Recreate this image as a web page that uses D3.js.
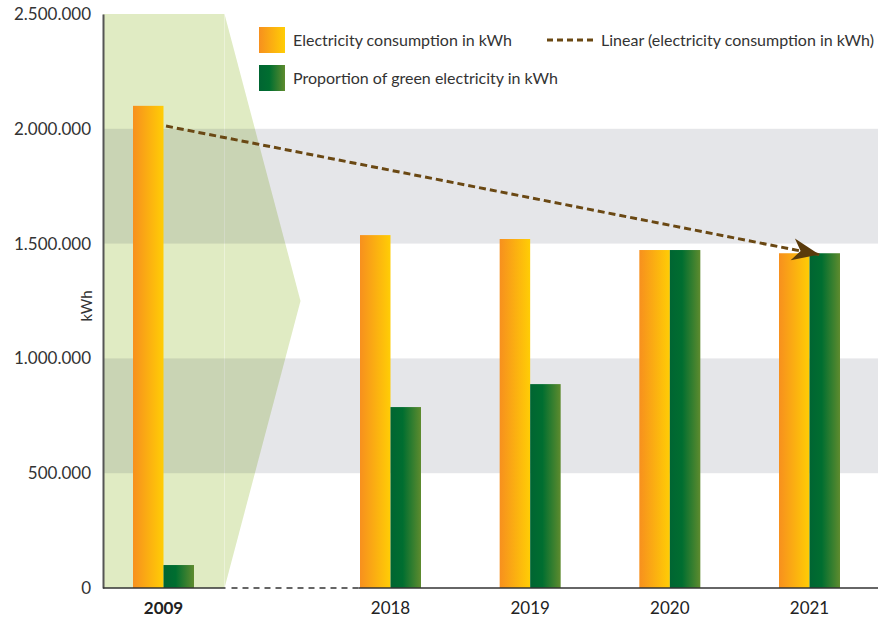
<!DOCTYPE html>
<html lang="en">
<head>
<meta charset="UTF-8">
<title>Electricity consumption</title>
<script src="https://cdn.jsdelivr.net/npm/d3@7"></script>
<style>
    body { margin: 0; background: #fff; }
    svg { display: block; font-family: Lato, sans-serif; }
</style>
</head>
<body>
<svg></svg>
<script>
    // values
    const years = [2009, 2018, 2019, 2020, 2021];
    const consumption = [2100000, 1537000, 1520000, 1472000, 1458000];
    const greenPower = [100000, 788000, 888000, 1472000, 1458000];
    const yTicks = [0, 500000, 1000000, 1500000, 2000000, 2500000];
    const trendYears = [2009.1, 2021.07];
    const trendValues = [2012000, 1452000];
    const legendLabels = ['Electricity consumption in kWh', 'Proportion of green electricity in kWh', 'Linear (electricity consumption in kWh)'];

    const width = 878, height = 618;
    const margin = { top: 14, right: 0, bottom: 30, left: 103 };

    const svg = d3.select('svg')
        .attr('width', width)
        .attr('height', height);

    const y = d3.scaleLinear()
        .domain([0, 2500000])
        .range([height - margin.bottom, margin.top]);

    // broken x axis: 2009 stands alone, then one step per year from 2018 on
    const x = d3.scaleLinear()
        .domain([2009, 2018, 2021])
        .range([163.5, 390.5, 809.5]);

    const xSub = d3.scaleBand()
        .domain(['consumption', 'green'])
        .range([-30.5, 30.5]);

    const fmt = d3.formatLocale({ decimal: ',', thousands: '.', grouping: [3], currency: ['', ''] }).format(',');

    // gradients for the bars
    const defs = svg.append('defs');
    const gradOrange = defs.append('linearGradient').attr('id', 'gOrange');
    gradOrange.append('stop').attr('offset', 0).attr('stop-color', '#f7901e');
    gradOrange.append('stop').attr('offset', 1).attr('stop-color', '#ffcd05');
    const gradGreen = defs.append('linearGradient').attr('id', 'gGreen');
    gradGreen.append('stop').attr('offset', 0).attr('stop-color', '#006532');
    gradGreen.append('stop').attr('offset', 0.4).attr('stop-color', '#006e30');
    gradGreen.append('stop').attr('offset', 1).attr('stop-color', '#5e8b2e');

    defs.append('marker')
        .attr('id', 'arrow')
        .attr('markerUnits', 'userSpaceOnUse')
        .attr('viewBox', '-28 -12 29 24')
        .attr('markerWidth', 29)
        .attr('markerHeight', 24)
        .attr('refX', 0)
        .attr('refY', 0)
        .attr('orient', 'auto')
        .append('path')
        .attr('d', 'M0,0L-27,-11L-19,0L-27,11Z')
        .attr('fill', '#5a3b0b');

    // light green arrow shape behind 2009
    const x09 = x(2009);
    svg.append('polygon')
        .attr('points', [
            [margin.left, y(2500000)],
            [x09 + 61, y(2500000)],
            [x09 + 137, y(1250000)],
            [x09 + 61, y(0)],
            [margin.left, y(0)]
        ].join(' '))
        .attr('fill', '#e0ebc3');

    svg.append('line')
        .attr('x1', x09 + 61).attr('x2', x09 + 61)
        .attr('y1', y(2500000)).attr('y2', y(0))
        .attr('stroke', '#fff')
        .attr('stroke-opacity', 0.35);

    // grey bands
    svg.append('g')
        .selectAll('rect')
        .data([[500000, 1000000], [1500000, 2000000]])
        .join('rect')
        .attr('x', margin.left)
        .attr('width', width - margin.left)
        .attr('y', d => y(d[1]))
        .attr('height', d => y(d[0]) - y(d[1]))
        .attr('fill', 'rgb(40,50,70)')
        .attr('fill-opacity', 0.12);

    // bars
    const rows = years.map((yr, i) => ({ year: yr, consumption: consumption[i], green: greenPower[i] }));
    const groups = svg.append('g')
        .selectAll('g')
        .data(rows)
        .join('g')
        .attr('transform', d => `translate(${x(d.year)},0)`);

    groups.selectAll('rect')
        .data(d => [['consumption', d.consumption], ['green', d.green]])
        .join('rect')
        .attr('x', d => xSub(d[0]))
        .attr('width', xSub.bandwidth())
        .attr('y', d => y(d[1]))
        .attr('height', d => y(0) - y(d[1]))
        .attr('fill', d => d[0] === 'consumption' ? 'url(#gOrange)' : 'url(#gGreen)');

    // y axis
    const yAxis = svg.append('g')
        .attr('transform', `translate(${margin.left},0)`)
        .call(d3.axisLeft(y).tickValues(yTicks).tickSize(0).tickPadding(12).tickFormat(fmt));
    yAxis.select('.domain').attr('stroke', '#555').attr('stroke-width', 2);
    yAxis.selectAll('text').attr('font-size', 17).attr('fill', '#333').attr('font-family', 'Lato, sans-serif');

    svg.append('text')
        .attr('transform', `translate(92,${(y(0) + y(2500000)) / 2 + 5}) rotate(-90)`)
        .attr('text-anchor', 'middle')
        .attr('font-size', 15)
        .attr('fill', '#333')
        .text('kWh');

    // x axis with a dashed break between 2009 and 2018
    const y0 = y(0);
    const breakStart = x(2009) + 62, breakEnd = x(2018) - 32;
    const axisG = svg.append('g').attr('stroke', '#333').attr('stroke-width', 1.6);
    axisG.append('line').attr('x1', margin.left).attr('x2', breakStart).attr('y1', y0).attr('y2', y0);
    axisG.append('line').attr('x1', breakStart + 6).attr('x2', breakEnd).attr('y1', y0).attr('y2', y0)
        .attr('stroke-dasharray', '6,5');
    axisG.append('line').attr('x1', breakEnd).attr('x2', width).attr('y1', y0).attr('y2', y0);

    svg.append('g')
        .selectAll('text')
        .data(years)
        .join('text')
        .attr('x', d => x(d))
        .attr('y', 614)
        .attr('text-anchor', 'middle')
        .attr('font-size', 17)
        .attr('font-weight', d => d === 2009 ? 'bold' : 'normal')
        .attr('fill', '#222')
        .text(d => d);

    // linear trend arrow
    svg.append('line')
        .attr('x1', x(trendYears[0])).attr('y1', y(trendValues[0]))
        .attr('x2', x(trendYears[1])).attr('y2', y(trendValues[1]))
        .attr('stroke', '#6a4813')
        .attr('stroke-width', 3)
        .attr('stroke-dasharray', '7,4')
        .attr('marker-end', 'url(#arrow)');

    // legend
    const legend = svg.append('g').attr('transform', 'translate(259,27)');
    legend.selectAll('rect')
        .data(['url(#gOrange)', 'url(#gGreen)'])
        .join('rect')
        .attr('y', (d, i) => i * 38)
        .attr('width', 26)
        .attr('height', 26)
        .attr('fill', d => d);
    legend.selectAll('text.lab')
        .data(legendLabels.slice(0, 2))
        .join('text')
        .attr('class', 'lab')
        .attr('x', 34)
        .attr('y', (d, i) => 19 + i * 38)
        .attr('font-size', 16)
        .attr('fill', '#333')
        .text(d => d);
    legend.append('line')
        .attr('x1', 288).attr('x2', 336)
        .attr('y1', 13).attr('y2', 13)
        .attr('stroke', '#6a4813')
        .attr('stroke-width', 3)
        .attr('stroke-dasharray', '6,4');
    legend.append('text')
        .attr('x', 342)
        .attr('y', 19)
        .attr('font-size', 16)
        .attr('fill', '#333')
        .text(legendLabels[2]);
</script>
</body>
</html>
